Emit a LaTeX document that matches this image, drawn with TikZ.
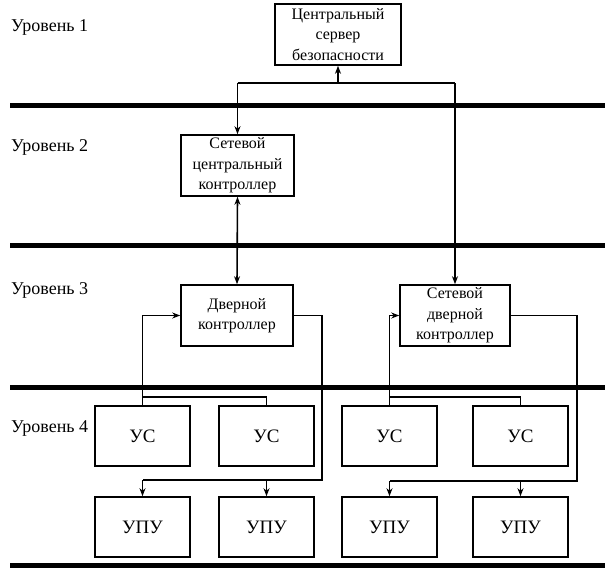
\documentclass[tikz,border=0pt]{standalone}
\usepackage{fontspec}
\setmainfont{Liberation Serif}
\usetikzlibrary{arrows.meta}
\begin{document}
\begin{tikzpicture}[x=1pt,y=-1pt,
  box/.style={draw,line width=1.6pt,align=center,inner sep=0pt,
    font=\fontsize{16}{20.5}\selectfont},
  small/.style={box,minimum width=95pt,minimum height=60pt,font=\fontsize{19}{20}\selectfont},
  lvl/.style={anchor=west,inner sep=0pt,font=\fontsize{18}{20}\selectfont},
  bus/.style={line width=5pt},
  wire/.style={line width=1.6pt},
  arr/.style={wire,-{Stealth[length=8pt,width=6pt]}},
  darr/.style={wire,{Stealth[length=8pt,width=6pt]}-{Stealth[length=8pt,width=6pt]}}]
\useasboundingbox (0,0) rectangle (605,568);
% level buses
\draw[bus] (10,105) -- (605,105);
\draw[bus] (10,245) -- (605,245);
\draw[bus] (10,387) -- (605,387);
\draw[bus] (10,565) -- (605,565);
% level labels
\node[lvl] (l1) at (11,27) {Уровень 1};
\node[lvl] (l2) at (11,147) {Уровень 2};
\node[lvl] (l3) at (11,290) {Уровень 3};
\node[lvl] (l4) at (11,428) {Уровень 4};
% boxes
\node[box,minimum width=126pt,minimum height=61pt] (srv) at (338,34.5) {Центральный\\сервер\\безопасности};
\node[box,minimum width=113pt,minimum height=61pt] (ncc) at (237.5,165.5) {Сетевой\\центральный\\контроллер};
\node[box,minimum width=112pt,minimum height=61pt] (dc) at (237,315.5) {Дверной\\контроллер};
\node[box,minimum width=110pt,minimum height=61pt] (ndc) at (455,315.5) {Сетевой\\дверной\\контроллер};
\node[small] (us1) at (142.5,436) {УС};
\node[small] (us2) at (266.5,436) {УС};
\node[small] (us3) at (389.5,436) {УС};
\node[small] (us4) at (520.5,436) {УС};
\node[small] (upu1) at (142.5,527) {УПУ};
\node[small] (upu2) at (266.5,527) {УПУ};
\node[small] (upu3) at (389.5,527) {УПУ};
\node[small] (upu4) at (520.5,527) {УПУ};
% top connections
\coordinate (j0) at (338,83);
\coordinate (jl) at (237.5,83);
\coordinate (jr) at (455,83);
\draw[arr] (j0) -- (srv.south);
\draw[wire] (jl) -- (jr);
\draw[arr] (jl) -- (ncc.north);
\draw[arr] (jr) -- (ndc.north);
\draw[darr] (ncc.south) -- (dc.north);
% left group
\coordinate (a1) at (142.5,397);
\coordinate (a2) at (266.5,397);
\draw[arr] (us1.north) -- (us1.north |- dc.west) -- (dc.west);
\draw[wire] (us2.north) -- (a2) -- (a1);
\coordinate (b0) at (322,315.5);
\coordinate (b1) at (322,480);
\coordinate (b2) at (142.5,480);
\coordinate (b3) at (266.5,480);
\draw[wire] (dc.east) -- (b0) -- (b1) -- (b2);
\draw[arr] (b2) -- (upu1.north);
\draw[arr] (b3) -- (upu2.north);
% right group
\coordinate (c1) at (389.5,397);
\coordinate (c2) at (520.5,397);
\draw[arr] (us3.north) -- (us3.north |- ndc.west) -- (ndc.west);
\draw[wire] (us4.north) -- (c2) -- (c1);
\coordinate (d0) at (577,315.5);
\coordinate (d1) at (577,481);
\coordinate (d2) at (389.5,481);
\coordinate (d3) at (520.5,481);
\draw[wire] (ndc.east) -- (d0) -- (d1) -- (d2);
\draw[arr] (d2) -- (upu3.north);
\draw[arr] (d3) -- (upu4.north);
\end{tikzpicture}
\end{document}
